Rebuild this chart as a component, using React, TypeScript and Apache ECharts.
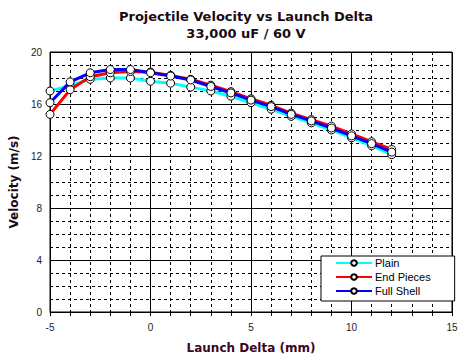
import React, { useEffect, useRef } from "react";
import * as echarts from "echarts";

const launchDelta = [-5, -4, -3, -2, -1, 0, 1, 2, 3, 4, 5, 6, 7, 8, 9, 10, 11, 12];
const plain = [17.0, 17.4, 17.9, 18.0, 18.0, 17.75, 17.6, 17.3, 17.0, 16.6, 16.1, 15.6, 15.05, 14.55, 14.0, 13.4, 12.8, 12.1];
const endPieces = [15.2, 17.1, 18.1, 18.4, 18.5, 18.45, 18.2, 17.9, 17.45, 16.95, 16.4, 15.9, 15.3, 14.8, 14.3, 13.7, 13.1, 12.5];
const fullShell = [16.1, 17.7, 18.4, 18.65, 18.65, 18.4, 18.15, 17.85, 17.35, 16.85, 16.3, 15.8, 15.2, 14.7, 14.15, 13.55, 12.95, 12.3];

const seriesNames = ["Plain", "End Pieces", "Full Shell"];
const seriesColors = ["#00FFFF", "#FF0000", "#0000FF"];
const seriesValues = [plain, endPieces, fullShell];

const titleText = "Projectile Velocity vs Launch Delta";
const subtitleText = "33,000 uF / 60 V";
const xName = "Launch Delta (mm)";
const yName = "Velocity (m/s)";

export default function App() {
  const ref = useRef<HTMLDivElement>(null);
  useEffect(() => {
    if (!ref.current) return;
    const chart = echarts.init(ref.current, undefined, { renderer: "svg" });
    const labelStyle = { color: "#222", fontFamily: "Liberation Sans, Arial, sans-serif", fontSize: 10 };
    chart.setOption({
      animation: false,
      backgroundColor: "#fff",
      graphic: [
        {
          type: "text",
          x: 246,
          y: 16,
          style: {
            text: titleText,
            fontFamily: "DejaVu Sans",
            fontWeight: "bold",
            fontSize: 13,
            fill: "#1a0a14",
            align: "center",
            verticalAlign: "middle",
          },
        },
        {
          type: "text",
          x: 246,
          y: 33,
          style: {
            text: subtitleText,
            fontFamily: "DejaVu Sans",
            fontWeight: "bold",
            fontSize: 13,
            fill: "#1a0a14",
            align: "center",
            verticalAlign: "middle",
          },
        },
      ],
      grid: {
        left: 46,
        right: 13,
        top: 52,
        bottom: 48,
        show: true,
        borderColor: "#000",
        borderWidth: 1,
        backgroundColor: "#fff",
      },
      legend: {
        orient: "vertical",
        left: 321,
        top: 256,
        data: seriesNames,
        backgroundColor: "#fff",
        borderColor: "#000",
        borderWidth: 1,
        borderRadius: 0,
        padding: [1.5, 24, 4.5, 14],
        itemGap: 3,
        itemWidth: 36,
        itemHeight: 7,
        textStyle: { color: "#000", fontFamily: "Liberation Sans, Arial, sans-serif", fontSize: 11, padding: [0, 0, 0, -2] },
      },
      xAxis: {
        type: "value",
        min: -5,
        max: 15,
        interval: 5,
        name: xName,
        nameLocation: "middle",
        nameGap: 30,
        nameTextStyle: { color: "#3a0822", fontFamily: "DejaVu Sans", fontWeight: "bold", fontSize: 12 },
        axisLine: { show: true, onZero: false, lineStyle: { color: "#000", width: 1 } },
        axisTick: { show: true, length: 4, lineStyle: { color: "#000" } },
        minorTick: { show: true, splitNumber: 5, length: 4, lineStyle: { color: "#000" } },
        axisLabel: { ...labelStyle, margin: 10 },
        splitLine: { show: true, lineStyle: { color: "#000", width: 1 } },
        minorSplitLine: { show: true, lineStyle: { color: "#000", width: 1, type: [3, 3] } },
      },
      yAxis: {
        type: "value",
        min: 0,
        max: 20,
        interval: 4,
        name: yName,
        nameLocation: "middle",
        nameGap: 26,
        nameTextStyle: { color: "#1a0a14", fontFamily: "DejaVu Sans", fontWeight: "bold", fontSize: 12 },
        axisLine: { show: true, lineStyle: { color: "#000", width: 1 } },
        axisTick: { show: true, length: 4, lineStyle: { color: "#000" } },
        minorTick: { show: false, splitNumber: 4 },
        axisLabel: { ...labelStyle, margin: 8 },
        splitLine: { show: true, lineStyle: { color: "#000", width: 1 } },
        minorSplitLine: { show: true, lineStyle: { color: "#000", width: 1, type: [3, 3] } },
      },
      series: seriesNames.map((name, i) => ({
        name,
        type: "line",
        color: seriesColors[i],
        data: launchDelta.map((x, j) => [x, seriesValues[i][j]]),
        symbol: "circle",
        symbolSize: 8,
        showAllSymbol: true,
        lineStyle: { color: seriesColors[i], width: 3 },
        itemStyle: { color: "#fff", borderColor: "#000", borderWidth: 1 },
        emphasis: { disabled: true },
        z: 2 + i,
      })),
    });
    return () => chart.dispose();
  }, []);
  return <div ref={ref} style={{ position: "fixed", left: 0, top: 0, width: 465, height: 360 }} />;
}
